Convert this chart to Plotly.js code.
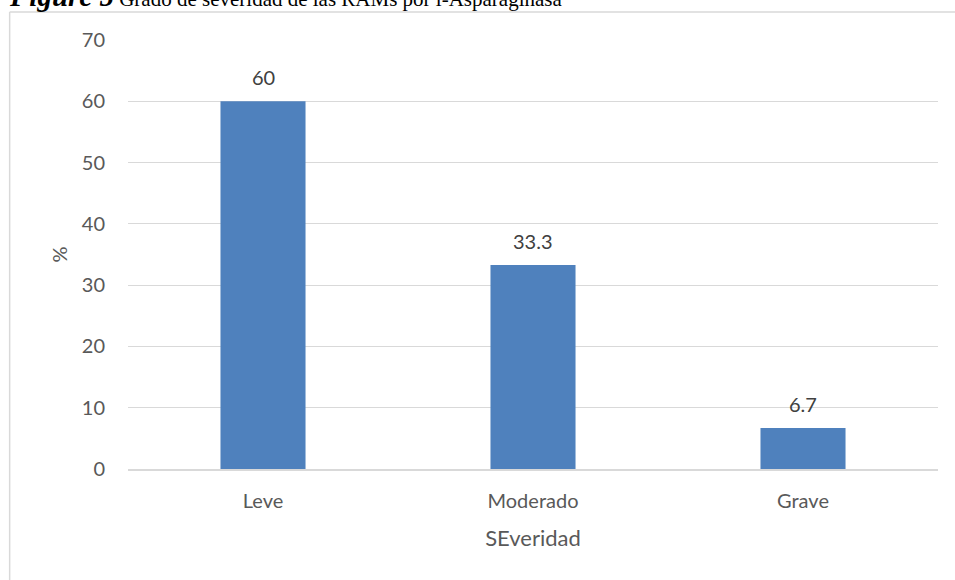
<!DOCTYPE html>
<html>
<head>
<meta charset="utf-8">
<script src="https://cdn.plot.ly/plotly-3.0.1.min.js"></script>
<style>html,body{margin:0;padding:0;background:#fff;}#chart{width:955px;height:580px;}</style>
</head>
<body>
<div id="chart"></div>
<script>
const categories = ["Leve", "Moderado", "Grave"];
const values = [60, 33.3, 6.7];
const valueLabels = ["60", "33.3", "6.7"];
const yTicks = [0, 10, 20, 30, 40, 50, 60, 70];

const trace = {
  type: "bar",
  x: categories,
  y: values,
  marker: {color: "#4F81BD"},
  width: 0.315,
  hoverinfo: "none"
};

const labelAnnotations = categories.map((c, i) => ({
  x: c, y: values[i], xref: "x", yref: "y",
  text: valueLabels[i], showarrow: false,
  xanchor: "center", yanchor: "bottom", yshift: 10,
  font: {family: "Lato, 'Open Sans', sans-serif", size: 20, color: "#404040"}
}));

const layout = {
  width: 955, height: 580,
  margin: {l: 128, r: 17, t: 40, b: 111},
  paper_bgcolor: "#fff", plot_bgcolor: "#fff",
  showlegend: false,
  font: {family: "Lato, 'Open Sans', sans-serif", color: "#595959"},
  xaxis: {
    type: "category",
    showgrid: false,
    showline: true, linecolor: "#D9D9D9", linewidth: 1.5,
    ticks: "", tickfont: {size: 20, color: "#595959"},
    ticklabelstandoff: 13,
    title: {text: "SEveridad", font: {size: 22, color: "#595959"}, standoff: 20}
  },
  yaxis: {
    range: [0, 70],
    tickvals: yTicks,
    ticktext: yTicks.map(String),
    showgrid: true, gridcolor: "#D9D9D9", gridwidth: 1,
    zeroline: false, showline: false,
    ticks: "", tickfont: {size: 20, color: "#595959"},
    ticklabelstandoff: 22,
    title: {text: "%", font: {size: 20, color: "#595959"}, standoff: 8}
  },
  bargap: 0.685,
  shapes: [
    {type: "line", xref: "paper", yref: "paper", x0: -0.1461, x1: 1.03, y0: 1.0651, y1: 1.0651, line: {color: "#D9D9D9", width: 1.5}},
    {type: "line", xref: "paper", yref: "paper", x0: -0.1461, x1: -0.1461, y0: 1.0651, y1: -0.3, line: {color: "#D9D9D9", width: 1.5}}
  ],
  annotations: [
    {
      xref: "paper", yref: "paper",
      x: -0.149, y: 1.0651, xanchor: "left", yanchor: "bottom",
      showarrow: false,
      text: "<b><i><span style=\"font-size:29px\">Figure 5</span></i></b> Grado de severidad de las RAMs por l-Asparaginasa",
      font: {family: "'Liberation Serif', 'Times New Roman', serif", size: 21, color: "#000"},
      yshift: -2
    }
  ].concat(labelAnnotations)
};

Plotly.newPlot("chart", [trace], layout, {displayModeBar: false, staticPlot: true});
</script>
</body>
</html>
